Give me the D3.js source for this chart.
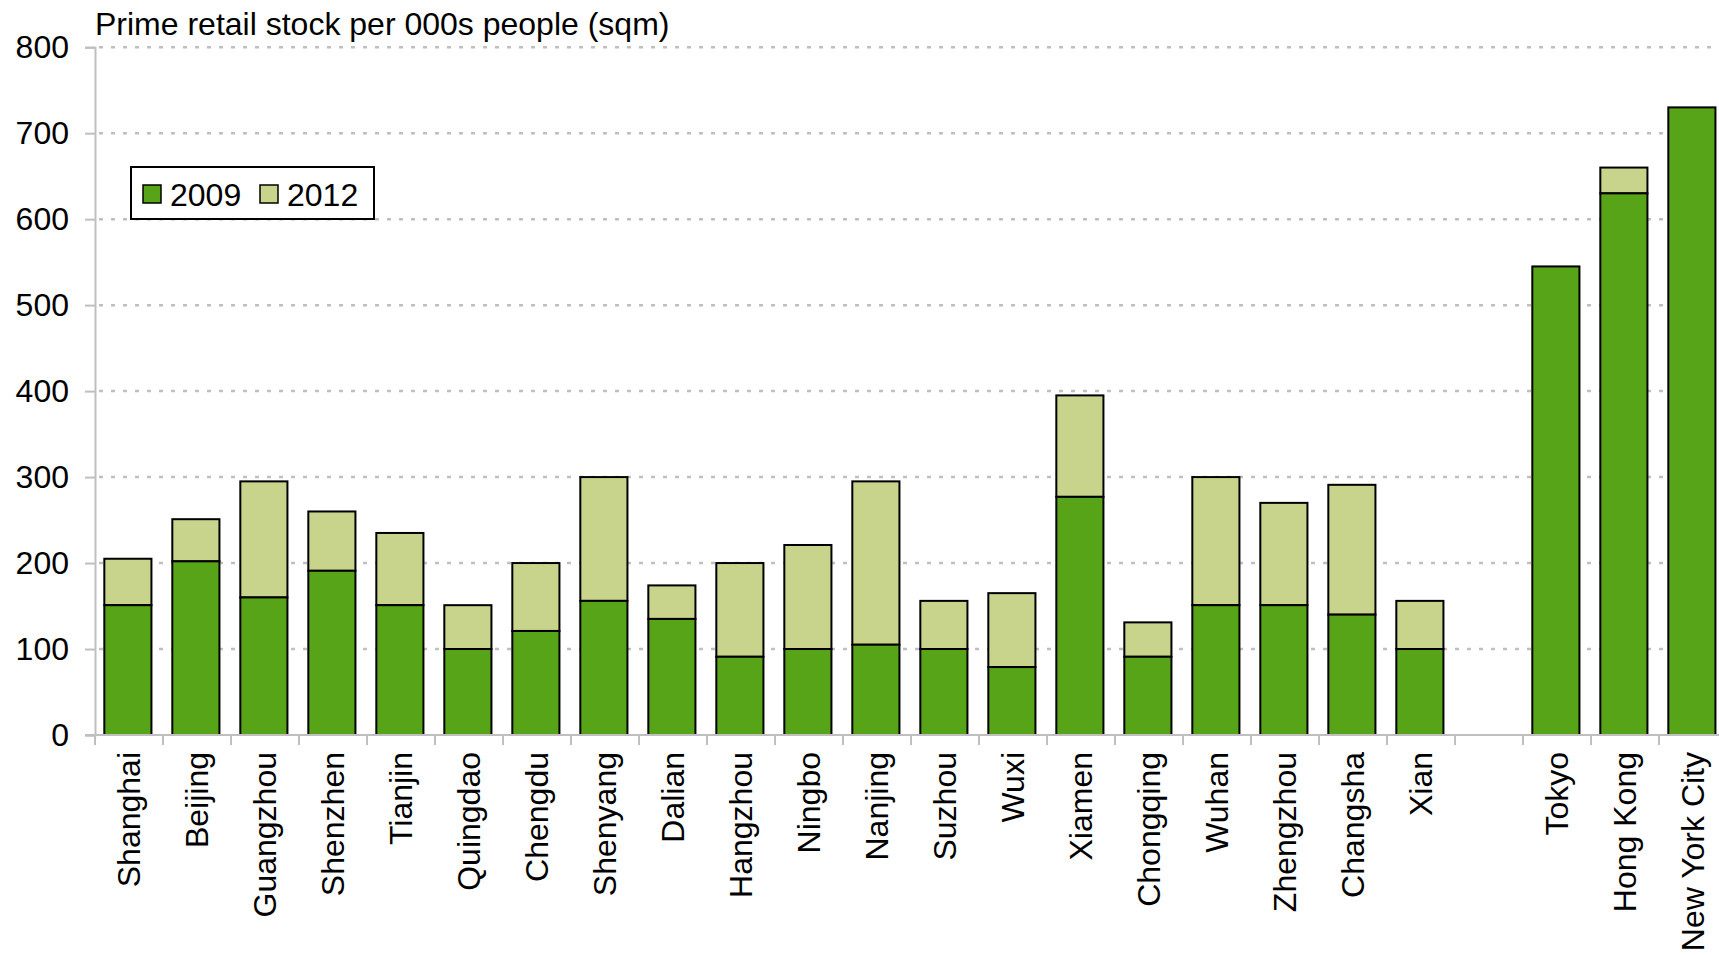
<!DOCTYPE html>
<html>
<head>
<meta charset="utf-8">
<script src="https://cdn.jsdelivr.net/npm/d3@7"></script>
<style>
  html, body { margin: 0; padding: 0; background: #fff; overflow: hidden; }
  svg { display: block; font-family: "Liberation Sans", Arial, Helvetica, sans-serif; }
</style>
</head>
<body>
<svg id="chart" width="1719" height="955"></svg>
<script>
// Cities in display order; the empty slot separates Chinese cities from global ones
const cities = ["Shanghai", "Beijing", "Guangzhou", "Shenzhen", "Tianjin", "Quingdao", "Chengdu",
  "Shenyang", "Dalian", "Hangzhou", "Ningbo", "Nanjing", "Suzhou", "Wuxi", "Xiamen", "Chongqing",
  "Wuhan", "Zhengzhou", "Changsha", "Xian", "", "Tokyo", "Hong Kong", "New York City"];

// Prime retail stock per 000s people (sqm)
const stock2009 = [151, 202, 160, 191, 151, 100, 121, 156, 135, 91, 100, 105, 100, 79, 277, 91,
  151, 151, 140, 100, null, 545, 630, 730];
const stock2012 = [205, 251, 295, 260, 235, 151, 200, 300, 174, 200, 221, 295, 156, 165, 395, 131,
  300, 270, 291, 156, null, 545, 660, 730];

const yTicks = [0, 100, 200, 300, 400, 500, 600, 700, 800];
const seriesNames = ["2009", "2012"];
const seriesColors = ["#58a418", "#c8d48c"];
const titleText = "Prime retail stock per 000s people (sqm)";

const svg = d3.select("#chart");
const W = 1719;
const x0 = 95, yBase = 735, yTop = 47.2;
const step = 68;
const padIn = 0.307, padOut = 0.137;

// slot keys keep the blank separator distinct
const keys = cities.map((c, i) => i + "|" + c);

const x = d3.scaleBand()
  .domain(keys)
  .range([x0, x0 + step * (cities.length - padIn + 2 * padOut)])
  .paddingInner(padIn)
  .paddingOuter(padOut);

const y = d3.scaleLinear().domain([0, 800]).range([yBase, yTop]);

const fontSize = 32;
const grey = "#bfbfbf";

// horizontal dashed gridlines
svg.append("g")
  .selectAll("line")
  .data(yTicks.filter(d => d > 0))
  .join("line")
  .attr("x1", x0 + 4).attr("x2", W)
  .attr("y1", d => y(d)).attr("y2", d => y(d))
  .attr("stroke", grey)
  .attr("stroke-width", 2.5)
  .attr("stroke-dasharray", "4,8");

// y axis
const yAxis = d3.axisLeft(y).tickValues(yTicks).tickSize(10).tickPadding(6).tickFormat(d3.format("d"));
const gy = svg.append("g").attr("transform", `translate(${x0},0)`).call(yAxis);
gy.select(".domain").attr("stroke", grey).attr("stroke-width", 2);
gy.selectAll(".tick line").attr("stroke", grey).attr("stroke-width", 2);
gy.selectAll(".tick text")
  .attr("font-size", fontSize)
  .attr("font-family", "'Liberation Sans', Arial, sans-serif")
  .attr("fill", "#000")
  .attr("x", -26);

// bars
const rows = keys.map((k, i) => ({ key: k, v2009: stock2009[i], v2012: stock2012[i] }))
  .filter(r => r.v2009 != null);

const bars = svg.append("g");
// 2012 growth on top of the 2009 base
bars.selectAll("rect.s2012")
  .data(rows.filter(r => r.v2012 > r.v2009))
  .join("rect")
  .attr("class", "s2012")
  .attr("x", d => x(d.key))
  .attr("width", x.bandwidth())
  .attr("y", d => y(d.v2012))
  .attr("height", d => y(d.v2009) - y(d.v2012))
  .attr("fill", seriesColors[1])
  .attr("stroke", "#000")
  .attr("stroke-width", 2);

bars.selectAll("rect.s2009")
  .data(rows)
  .join("rect")
  .attr("class", "s2009")
  .attr("x", d => x(d.key))
  .attr("width", x.bandwidth())
  .attr("y", d => y(d.v2009))
  .attr("height", d => y(0) - y(d.v2009))
  .attr("fill", seriesColors[0])
  .attr("stroke", "#000")
  .attr("stroke-width", 2);

// x axis baseline and category boundary ticks
const gx = svg.append("g");
gx.append("line")
  .attr("x1", x0 - 10).attr("x2", W)
  .attr("y1", yBase).attr("y2", yBase)
  .attr("stroke", grey).attr("stroke-width", 2);
gx.selectAll("line.bound")
  .data(d3.range(cities.length + 1))
  .join("line")
  .attr("class", "bound")
  .attr("x1", i => x0 + i * x.step()).attr("x2", i => x0 + i * x.step())
  .attr("y1", yBase).attr("y2", yBase + 10)
  .attr("stroke", grey).attr("stroke-width", 2);

// rotated category labels
gx.selectAll("text")
  .data(keys)
  .join("text")
  .attr("transform", d => `translate(${x(d) + x.bandwidth() / 2 + 1},${yBase + 17}) rotate(-90)`)
  .attr("text-anchor", "end")
  .attr("dy", "0.35em")
  .attr("font-size", fontSize)
  .attr("fill", "#000")
  .text(d => d.split("|")[1]);

// title
svg.append("text")
  .attr("x", x0)
  .attr("y", 35)
  .attr("font-size", fontSize)
  .attr("fill", "#000")
  .text(titleText);

// legend
const lg = svg.append("g").attr("transform", "translate(131,167)");
lg.append("rect")
  .attr("width", 243).attr("height", 52)
  .attr("fill", "#fff").attr("stroke", "#000").attr("stroke-width", 2);
const items = lg.selectAll("g.item")
  .data(seriesNames)
  .join("g")
  .attr("class", "item")
  .attr("transform", (d, i) => `translate(${12 + i * 117},0)`);
items.append("rect")
  .attr("y", 18).attr("width", 18).attr("height", 18)
  .attr("fill", (d, i) => seriesColors[i])
  .attr("stroke", "#000").attr("stroke-width", 1.5);
items.append("text")
  .attr("x", 27).attr("y", 39)
  .attr("font-size", fontSize)
  .attr("fill", "#000")
  .text(d => d);
</script>
</body>
</html>
